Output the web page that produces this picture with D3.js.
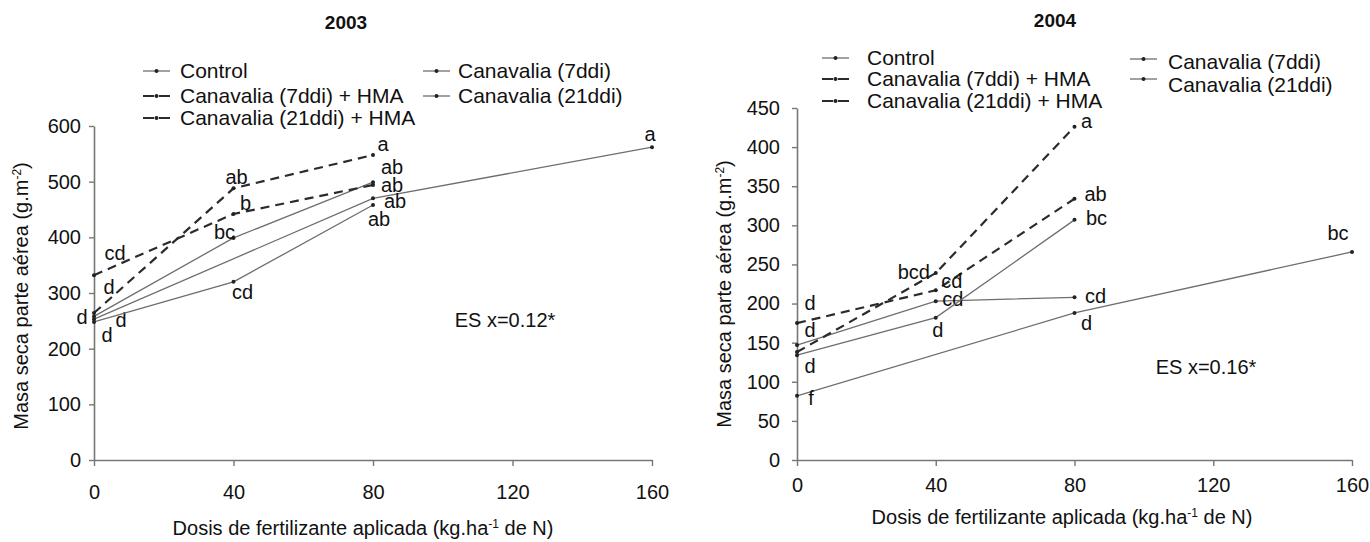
<!DOCTYPE html>
<html>
<head>
<meta charset="utf-8">
<script src="https://cdn.jsdelivr.net/npm/d3@7"></script>
<style>
    body { margin: 0; background: #fff; }
    svg text { font-family: "Liberation Sans", Arial, sans-serif; fill: #111; }
</style>
</head>
<body>
<div id="chart"></div>
<script>
// doses of N (x axis)
const doses = [0, 40, 80, 160];

const seriesNames = ["Control", "Canavalia (7ddi)", "Canavalia (7ddi) + HMA", "Canavalia (21ddi)", "Canavalia (21ddi) + HMA"];
const dashedSeries = ["Canavalia (7ddi) + HMA", "Canavalia (21ddi) + HMA"];

// 2003 values (g.m-2), null = no measurement
const control2003   = [253, null, 470, 562];
const can7_2003     = [258, 399, 499, null];
const can7hma_2003  = [332, 442, 494, null];
const can21_2003    = [248, 320, 458, null];
const can21hma_2003 = [264, 488, 548, null];

const letters2003 = {
    "Control":                 ["d", null, "ab", "a"],
    "Canavalia (7ddi)":        ["d", "bc", "ab", null],
    "Canavalia (7ddi) + HMA":  ["cd", "b", "ab", null],
    "Canavalia (21ddi)":       ["d", "cd", "ab", null],
    "Canavalia (21ddi) + HMA": ["d", "ab", "a", null]
};

// 2004 values
const control2004   = [82, null, 188, 266];
const can7_2004     = [147, 203, 208, null];
const can7hma_2004  = [138, 239, 426, null];
const can21_2004    = [134, 182, 307, null];
const can21hma_2004 = [175, 217, 334, null];

const letters2004 = {
    "Control":                 ["f", null, "d", "bc"],
    "Canavalia (7ddi)":        ["d", "cd", "cd", null],
    "Canavalia (7ddi) + HMA":  [null, "bcd", "a", null],
    "Canavalia (21ddi)":       ["d", "d", "bc", null],
    "Canavalia (21ddi) + HMA": ["d", "cd", "ab", null]
};

const yTicks2003 = [0, 100, 200, 300, 400, 500, 600];
const yTicks2004 = [0, 50, 100, 150, 200, 250, 300, 350, 400, 450];
const xTicks = [0, 40, 80, 120, 160];

// where the letters sit around their point (px)
const letterPos2003 = {
    "Control":                 [[27, 1], null, [22, 3], [-2, -13]],
    "Canavalia (7ddi)":        [[-12, 1], [-9, -6], [19, -15], null],
    "Canavalia (7ddi) + HMA":  [[21, -22], [12, -11], [19, 0], null],
    "Canavalia (21ddi)":       [[13, 13], [9, 10], [6, 14], null],
    "Canavalia (21ddi) + HMA": [[15, -26], [3, -11], [10, -11], null]
};
const letterPos2004 = {
    "Control":                 [[14, 2], null, [12, 10], [-14, -19]],
    "Canavalia (7ddi)":        [[13, -15], [17, -2], [21, -1], null],
    "Canavalia (7ddi) + HMA":  [null, [-22, -1], [12, -6], null],
    "Canavalia (21ddi)":       [[13, 11], [2, 12], [22, -2], null],
    "Canavalia (21ddi) + HMA": [[13, -20], [16, -9], [21, -5], null]
};

let panels = [
    {
        year: "2003", titleX: 346, titleY: 22,
        xRange: [94, 652], yRange: [460, 126], yMax: 600, yTicks: yTicks2003,
        xPad: 19, yPad: 8,
        series: {
            "Control": control2003, "Canavalia (7ddi)": can7_2003, "Canavalia (7ddi) + HMA": can7hma_2003,
            "Canavalia (21ddi)": can21_2003, "Canavalia (21ddi) + HMA": can21hma_2003
        },
        letters: letters2003, letterPos: letterPos2003,
        es: "ES x=0.12*", esX: 505, esY: 320,
        yTitleX: 21, yTitleY: 296, xTitleX: 363, xTitleY: 528,
        legend: {symX: 143, textX: 180, rows: [71, 96, 118], symX2: 423, textX2: 458, rows2: [71, 96], textRows2: [71, 96]}
    },
    {
        year: "2004", titleX: 1055, titleY: 20,
        xRange: [797, 1352], yRange: [460, 108], yMax: 450, yTicks: yTicks2004,
        xPad: 12, yPad: 12,
        series: {
            "Control": control2004, "Canavalia (7ddi)": can7_2004, "Canavalia (7ddi) + HMA": can7hma_2004,
            "Canavalia (21ddi)": can21_2004, "Canavalia (21ddi) + HMA": can21hma_2004
        },
        letters: letters2004, letterPos: letterPos2004,
        es: "ES x=0.16*", esX: 1206, esY: 367,
        yTitleX: 724, yTitleY: 294, xTitleX: 1062, xTitleY: 517,
        legend: {symX: 822, textX: 867, rows: [58, 79, 101], symX2: 1130, textX2: 1168, rows2: [59, 79], textRows2: [62, 85]}
    }
];

const legendCol1 = ["Control", "Canavalia (7ddi) + HMA", "Canavalia (21ddi) + HMA"];
const legendCol2 = ["Canavalia (7ddi)", "Canavalia (21ddi)"];

let svg = d3.select("#chart").append("svg")
    .attr("width", 1370)
    .attr("height", 542);

function styleLine(sel, name) {
    if (dashedSeries.includes(name)) {
        sel.attr("stroke", "#2b2b2b").attr("stroke-width", 2.2).attr("stroke-dasharray", "9,6");
    } else {
        sel.attr("stroke", "#6e6e6e").attr("stroke-width", 1.3);
    }
}

panels.forEach(p => {
    let g = svg.append("g");

    let x = d3.scaleLinear().domain([0, 160]).range(p.xRange);
    let y = d3.scaleLinear().domain([0, p.yMax]).range(p.yRange);

    // title
    g.append("text")
        .attr("x", p.titleX).attr("y", p.titleY)
        .attr("dy", "0.35em")
        .attr("text-anchor", "middle")
        .style("font-weight", "bold")
        .style("font-size", "19px")
        .text(p.year);

    // axes
    let xAxis = d3.axisBottom(x).tickValues(xTicks).tickSize(6).tickSizeOuter(0).tickPadding(p.xPad);
    let yAxis = d3.axisLeft(y).tickValues(p.yTicks).tickSize(5).tickSizeOuter(0).tickPadding(p.yPad);

    let gx = g.append("g").attr("transform", `translate(0, ${p.yRange[0]})`).call(xAxis);
    let gy = g.append("g").attr("transform", `translate(${p.xRange[0]}, 0)`).call(yAxis);

    [gx, gy].forEach(a => {
        a.select(".domain").attr("stroke", "#777").attr("stroke-width", 1.6);
        a.selectAll(".tick line").attr("stroke", "#777").attr("stroke-width", 1.4);
        a.selectAll(".tick text").style("font-size", "20px").style("font-family", "'Liberation Sans', Arial, sans-serif").attr("fill", "#111");
    });

    // lines
    let line = d3.line().x(d => x(d.dose)).y(d => y(d.v));

    seriesNames.forEach(name => {
        let pts = doses.map((d, i) => ({dose: d, v: p.series[name][i], i: i})).filter(d => d.v != null);

        g.append("path")
            .datum(pts)
            .attr("fill", "none")
            .attr("d", line)
            .call(styleLine, name);

        g.selectAll(null)
            .data(pts)
            .enter().append("circle")
            .attr("cx", d => x(d.dose))
            .attr("cy", d => y(d.v))
            .attr("r", 2)
            .attr("fill", "#222");

        // significance letters
        g.selectAll(null)
            .data(pts.filter(d => p.letters[name][d.i] && p.letterPos[name][d.i]))
            .enter().append("text")
            .attr("x", d => x(d.dose) + p.letterPos[name][d.i][0])
            .attr("y", d => y(d.v) + p.letterPos[name][d.i][1])
            .attr("dy", "0.35em")
            .attr("text-anchor", "middle")
            .style("font-size", "20px")
            .text(d => p.letters[name][d.i]);
    });

    // ES note
    g.append("text")
        .attr("x", p.esX).attr("y", p.esY)
        .attr("dy", "0.35em")
        .attr("text-anchor", "middle")
        .style("font-size", "20px")
        .text(p.es);

    // axis titles
    let xt = g.append("text")
        .attr("x", p.xTitleX).attr("y", p.xTitleY)
        .attr("dy", "0.35em")
        .attr("text-anchor", "middle")
        .style("font-size", "20px");
    xt.append("tspan").text("Dosis de fertilizante aplicada (kg.ha");
    xt.append("tspan").attr("dy", -7).style("font-size", "12px").text("-1");
    xt.append("tspan").attr("dy", 7).text(" de N)");

    let yt = g.append("text")
        .attr("transform", `translate(${p.yTitleX}, ${p.yTitleY}) rotate(-90)`)
        .attr("dy", "0.35em")
        .attr("text-anchor", "middle")
        .style("font-size", "20px");
    yt.append("tspan").text("Masa seca parte aérea (g.m");
    yt.append("tspan").attr("dy", -7).style("font-size", "12px").text("-2");
    yt.append("tspan").attr("dy", 7).text(")");

    // legend
    let lg = p.legend;
    let addEntry = (name, sx, sy, tx, ty) => {
        g.append("line")
            .attr("x1", sx).attr("x2", sx + 27)
            .attr("y1", sy).attr("y2", sy)
            .call(styleLine, name)
            .attr("stroke-dasharray", dashedSeries.includes(name) ? "11,5" : null);
        g.append("circle").attr("cx", sx + 13.5).attr("cy", sy).attr("r", 2).attr("fill", "#222");
        g.append("text")
            .attr("x", tx).attr("y", ty)
            .attr("dy", "0.35em")
            .style("font-size", "21px")
            .text(name);
    };
    legendCol1.forEach((name, i) => addEntry(name, lg.symX, lg.rows[i], lg.textX, lg.rows[i]));
    legendCol2.forEach((name, i) => addEntry(name, lg.symX2, lg.rows2[i], lg.textX2, lg.textRows2[i]));
});
</script>
</body>
</html>
